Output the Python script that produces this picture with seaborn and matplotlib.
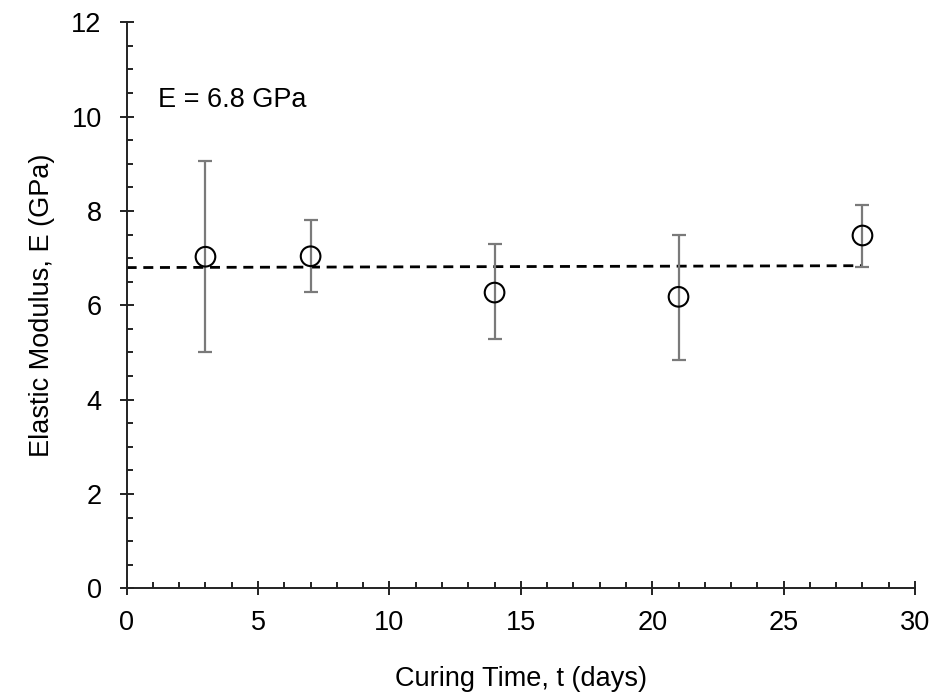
import matplotlib
matplotlib.use("Agg")
import matplotlib.pyplot as plt
from matplotlib.ticker import MultipleLocator
import seaborn as sns
import pandas as pd

# Elastic modulus versus curing time
curing_days = [3, 7, 14, 21, 28]
modulus_gpa = [7.03, 7.04, 6.27, 6.18, 7.48]
err_upper = [9.07, 7.80, 7.29, 7.50, 8.13]
err_lower = [5.00, 6.29, 5.28, 4.85, 6.82]

# Trend line (average modulus)
trend_days = [0, 28]
trend_gpa = [6.80, 6.84]
annotation = "E = 6.8 GPa"

x_ticks = [0, 5, 10, 15, 20, 25, 30]
y_ticks = [0, 2, 4, 6, 8, 10, 12]

sns.set_theme(style="ticks")
plt.rcParams["font.family"] = ["Liberation Sans", "DejaVu Sans"]

df = pd.DataFrame({"t": curing_days, "E": modulus_gpa})
trend = pd.DataFrame({"t": trend_days, "E": trend_gpa})

fig = plt.figure(figsize=(9.36, 6.98), dpi=100)
ax = fig.add_axes([0.1353, 0.1572, 0.8423, 0.8108])

yerr = [[m - lo for m, lo in zip(modulus_gpa, err_lower)],
        [hi - m for m, hi in zip(modulus_gpa, err_upper)]]
ax.errorbar(curing_days, modulus_gpa, yerr=yerr, fmt="none",
            ecolor="#7a7a7a", elinewidth=1.6, capsize=5, capthick=1.6, zorder=2)

sns.lineplot(data=trend, x="t", y="E", ax=ax, color="black",
             linewidth=2.0, dashes=False, zorder=1)
ax.lines[-1].set_dashes([3.6, 2.4])

sns.scatterplot(data=df, x="t", y="E", ax=ax, marker="o", s=200,
                facecolor="none", edgecolor="black", linewidth=1.5, zorder=3)

ax.text(1.2, 10.35, annotation, fontsize=19.5, va="center", ha="left", color="black")

ax.set_xlim(0, 30)
ax.set_ylim(0, 12)
ax.set_xticks(x_ticks)
ax.set_yticks(y_ticks)
ax.xaxis.set_minor_locator(MultipleLocator(1))
ax.yaxis.set_minor_locator(MultipleLocator(0.5))

for side in ("top", "right"):
    ax.spines[side].set_visible(False)
for side in ("left", "bottom"):
    ax.spines[side].set_color("#222222")
    ax.spines[side].set_linewidth(1.4)

ax.tick_params(axis="both", which="major", direction="inout", length=10,
               width=1.4, color="#222222", labelsize=19.5, labelcolor="black")
ax.tick_params(axis="both", which="minor", direction="in", length=4.5,
               width=1.4, color="#222222")
ax.tick_params(axis="x", which="major", pad=11)
ax.tick_params(axis="y", which="major", pad=13)

ax.set_xlabel("Curing Time, t (days)", fontsize=19.5, color="black", labelpad=21)
ax.set_ylabel("Elastic Modulus, E (GPa)", fontsize=19.5, color="black", labelpad=12)

fig.savefig("out.png", dpi=100, facecolor="white")
